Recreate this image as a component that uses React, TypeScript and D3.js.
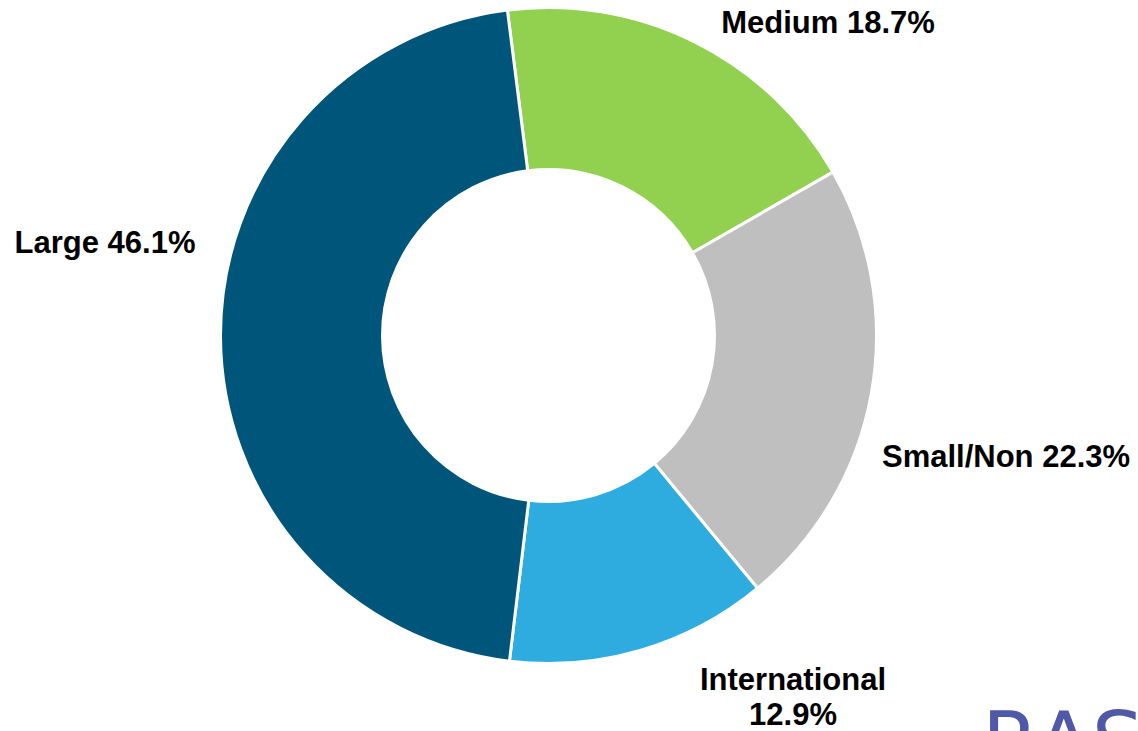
import React from "react";
import * as d3 from "d3";

const categories = ["Medium", "Small/Non", "International", "Large"];
const values = [18.7, 22.3, 12.9, 46.1];
const colors = ["#92d050", "#bfbfbf", "#2eabdf", "#00557a"];
const labelLines = [["Medium 18.7%"], ["Small/Non 22.3%"], ["International", "12.9%"], ["Large 46.1%"]];

const W = 1138;
const H = 731;
const cx = 548.5;
const cy = 335.5;
const outerR = 328;
const innerR = 166;
const startOffset = (-7.2 * Math.PI) / 180;

// label anchor positions (center x, first baseline y)
const labelPos = [
  { x: 828, y: 33 },
  { x: 1006, y: 467 },
  { x: 793, y: 690 },
  { x: 105, y: 253 },
];

export default function App() {
  const pie = d3
    .pie<number>()
    .sort(null)
    .value((d) => d)
    .startAngle(startOffset)
    .endAngle(startOffset + 2 * Math.PI);
  const arcs = pie(values);
  const arcGen = d3.arc<d3.PieArcDatum<number>>().innerRadius(innerR).outerRadius(outerR);

  return (
    <svg width={W} height={H} style={{ position: "absolute", left: 0, top: 0, background: "#fff" }}>
      <g transform={`translate(${cx},${cy})`}>
        {arcs.map((a, i) => (
          <path key={categories[i]} d={arcGen(a) || ""} fill={colors[i]} stroke="#fff" strokeWidth={3} />
        ))}
      </g>
      {labelLines.map((lines, i) => (
        <text
          key={categories[i]}
          x={labelPos[i].x}
          y={labelPos[i].y}
          textAnchor="middle"
          fontFamily="'Liberation Sans', Arial, sans-serif"
          fontWeight="bold"
          fontSize={31}
          fill="#000"
        >
          {lines.map((l, j) => (
            <tspan key={j} x={labelPos[i].x} dy={j === 0 ? 0 : 35}>
              {l}
            </tspan>
          ))}
        </text>
      ))}
      <text x={982} y={770} fontFamily="'DejaVu Sans', sans-serif" fontSize={82} fill="#5059a8">
        RAS
      </text>
    </svg>
  );
}
